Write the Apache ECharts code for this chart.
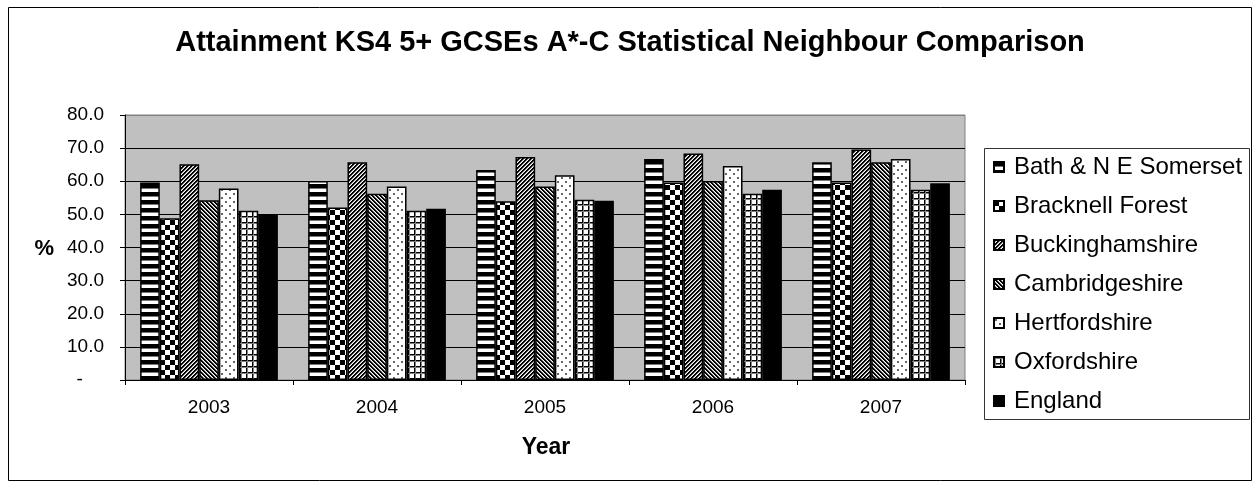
<!DOCTYPE html>
<html>
<head>
<meta charset="utf-8">
<script src="https://cdn.jsdelivr.net/npm/echarts@6/dist/echarts.min.js"></script>
<style>
html,body{margin:0;padding:0;background:#fff;}
#chart{width:1260px;height:488px;}
</style>
</head>
<body>
<div id="chart"></div>
<script>
// ---- data ----
const categories = ['2003', '2004', '2005', '2006', '2007'];
const seriesNames = ['Bath & N E Somerset', 'Bracknell Forest', 'Buckinghamshire', 'Cambridgeshire', 'Hertfordshire', 'Oxfordshire', 'England'];
const bathNES      = [59.6, 60.1, 63.4, 66.7, 65.7];
const bracknell    = [48.8, 52.1, 54.0, 59.6, 59.6];
const buckingham   = [65.1, 65.7, 67.3, 68.4, 69.6];
const cambridge    = [54.3, 56.2, 58.4, 60.1, 65.7];
const hertford     = [57.8, 58.4, 61.8, 64.6, 66.7];
const oxford       = [51.1, 51.1, 54.4, 56.2, 57.4];
const england      = [50.1, 51.7, 54.1, 57.4, 59.4];
const yTicks = [0, 10, 20, 30, 40, 50, 60, 70, 80];

const FONT = '"Liberation Sans", Arial, sans-serif';

// ---- patterns ----
function tile(w, h, draw) {
  const c = document.createElement('canvas');
  c.width = w; c.height = h;
  const g = c.getContext('2d');
  g.fillStyle = '#fff';
  g.fillRect(0, 0, w, h);
  draw(g, w, h);
  return { image: c, repeat: 'repeat' };
}
function px(g, x, y, col) { g.fillStyle = col; g.fillRect(x, y, 1, 1); }

const patHStripe = tile(8, 8, (g) => { g.fillStyle = '#000'; g.fillRect(0, 0, 8, 4); g.fillStyle = '#777'; g.fillRect(0, 4, 8, 1); });
const patChecker = tile(10, 10, (g) => { g.fillStyle = '#000'; g.fillRect(0, 0, 5, 5); g.fillRect(5, 5, 5, 5); });
const patUpDiag = tile(4, 4, (g) => {
  for (let x = 0; x < 4; x++) for (let y = 0; y < 4; y++) {
    const k = (x + y) % 4;
    if (k < 2) px(g, x, y, '#000'); else if (k === 2) px(g, x, y, '#9a9a9a');
  }
});
const patDownDiag = tile(4, 4, (g) => {
  for (let x = 0; x < 4; x++) for (let y = 0; y < 4; y++) {
    const k = ((x - y) % 4 + 4) % 4;
    if (k < 2) px(g, x, y, '#000'); else if (k === 2) px(g, x, y, '#9a9a9a');
  }
});
const patDots = tile(8, 8, (g) => { g.fillStyle = '#666'; g.fillRect(1, 1, 2, 2); g.fillRect(5, 5, 2, 2); });
const patGrid = tile(6, 6, (g) => {
  g.fillStyle = '#000'; g.fillRect(0, 0, 1, 6); g.fillRect(0, 0, 6, 1);
  g.fillStyle = '#808080'; g.fillRect(1, 0, 1, 6); g.fillRect(0, 1, 6, 1);
});

const seriesData = [bathNES, bracknell, buckingham, cambridge, hertford, oxford, england];
const seriesFill = [patHStripe, patChecker, patUpDiag, patDownDiag, patDots, patGrid, '#000'];

const chart = echarts.init(document.getElementById('chart'), null, { renderer: 'canvas' });

const series = seriesNames.map((name, i) => ({
  name: name,
  type: 'bar',
  data: seriesData[i],
  barGap: '0%',
  barCategoryGap: '18%',
  itemStyle: { color: seriesFill[i], borderColor: '#000', borderWidth: 1.5 }
}));

const splitColors = yTicks.map((t, i) => (i === yTicks.length - 1 ? '#808080' : '#000'));

const option = {
  animation: false,
  backgroundColor: '#fff',
  title: {
    text: 'Attainment KS4 5+ GCSEs A*-C Statistical Neighbour Comparison',
    left: 'center',
    top: 28,
    padding: 0,
    textStyle: { fontFamily: FONT, fontSize: 29, fontWeight: 'bold', color: '#000', lineHeight: 29 }
  },
  grid: {
    left: 125, right: 295, top: 115, bottom: 108,
    show: true, backgroundColor: '#c0c0c0', borderColor: '#808080', borderWidth: 1
  },
  legend: {
    orient: 'vertical',
    left: 993,
    top: 155,
    padding: 0,
    itemWidth: 10,
    itemHeight: 10,
    itemGap: 15,
    icon: 'rect',
    data: seriesNames,
    textStyle: { fontFamily: FONT, fontSize: 24, lineHeight: 24, color: '#000', padding: [0, 0, 0, 5] }
  },
  xAxis: {
    type: 'category',
    data: categories,
    axisLine: { show: true, lineStyle: { color: '#000', width: 1 } },
    axisTick: { show: true, length: 5, lineStyle: { color: '#000' } },
    axisLabel: { margin: 18, fontFamily: FONT, fontSize: 19, lineHeight: 19, color: '#000' },
    splitLine: { show: false }
  },
  yAxis: {
    type: 'value',
    min: 0, max: 80, interval: 10,
    axisLine: { show: true, lineStyle: { color: '#000', width: 1 } },
    axisTick: { show: true, length: 5, lineStyle: { color: '#000' } },
    axisLabel: {
      margin: 21, fontFamily: FONT, fontSize: 19, lineHeight: 19, color: '#000',
      formatter: (v) => (v === 0 ? '-    ' : v.toFixed(1))
    },
    splitLine: { show: true, lineStyle: { color: splitColors, width: 1 } }
  },
  graphic: [
    { type: 'rect', shape: { x: 8.5, y: 7.5, width: 1243, height: 473 }, style: { fill: 'none', stroke: '#000', lineWidth: 1 }, silent: true },
    { type: 'rect', shape: { x: 984.5, y: 148.5, width: 265, height: 271 }, style: { fill: 'none', stroke: '#333', lineWidth: 1 }, silent: true },
    { type: 'text', x: 54, y: 249, style: { text: '%', font: 'bold 22px ' + FONT, fill: '#000', textAlign: 'right', textVerticalAlign: 'middle' }, silent: true },
    { type: 'text', x: 546, y: 448, style: { text: 'Year', font: 'bold 23px ' + FONT, fill: '#000', textAlign: 'center', textVerticalAlign: 'middle' }, silent: true }
  ],
  series: series
};

chart.setOption(option);
</script>
</body>
</html>
